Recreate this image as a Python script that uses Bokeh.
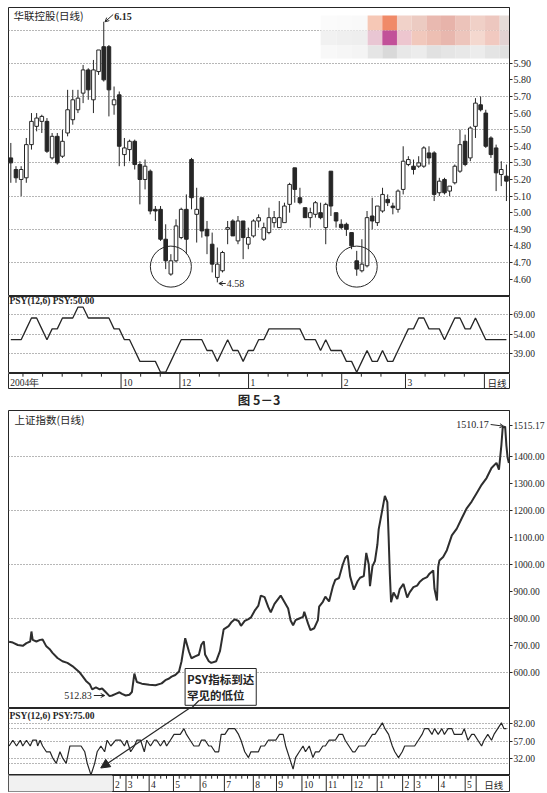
from bokeh.plotting import figure
from bokeh.layouts import column
from bokeh.models import (ColumnDataSource, Range1d, FixedTicker, LinearAxis, Grid,
                          PrintfTickFormatter, Label, Arrow, NormalHead, OpenHead)
from bokeh.core.properties import value
from bokeh.embed import file_html
from bokeh.resources import INLINE

INK = "#262626"
GRID_INK = "#6e6e6e"
SERIF = "Liberation Serif"
CJK = "Noto Sans CJK SC"

# ---------------- 华联控股 daily candles ----------------
hl_open = [5.33, 5.26, 5.20, 5.21, 5.41, 5.52, 5.55, 5.55, 5.33, 5.46,
           5.34, 5.48, 5.56, 5.62, 5.72, 5.86, 5.68, 5.85, 6.00, 6.00,
           5.65, 5.71, 5.35, 5.38, 5.43, 5.29, 5.20, 5.25, 5.02, 5.02,
           4.84, 4.63, 4.71, 4.85, 5.02, 5.32, 4.99, 5.09, 4.90, 4.81,
           4.61, 4.65, 4.90, 4.95, 4.83, 4.95, 4.81, 4.86, 4.95, 4.84,
           4.88, 4.94, 4.91, 4.94, 5.05, 5.27, 5.09, 5.03, 4.97, 4.99,
           5.00, 4.91, 5.25, 5.00, 4.93, 4.93, 4.88, 4.71, 4.65, 4.68,
           4.98, 4.94, 5.01, 5.08, 5.04, 5.02, 5.14, 5.29, 5.28, 5.28,
           5.28, 5.36, 5.36, 5.12, 5.20, 5.13, 5.18, 5.25, 5.43, 5.33,
           5.52, 5.65, 5.60, 5.45, 5.39, 5.23, 5.22]
hl_high = [5.42, 5.28, 5.28, 5.45, 5.60, 5.60, 5.59, 5.57, 5.48, 5.48,
           5.50, 5.74, 5.74, 5.74, 5.89, 5.87, 5.92, 5.98, 6.15, 6.01,
           5.76, 5.73, 5.45, 5.44, 5.44, 5.31, 5.32, 5.26, 5.04, 5.04,
           4.93, 4.75, 4.96, 5.03, 5.11, 5.33, 5.15, 5.09, 4.95, 4.88,
           4.79, 4.77, 4.95, 4.96, 4.98, 4.95, 4.91, 4.96, 4.99, 4.94,
           5.03, 5.01, 5.07, 5.06, 5.18, 5.27, 5.15, 5.03, 5.03, 5.07,
           5.06, 5.06, 5.25, 5.00, 4.96, 4.94, 4.88, 4.77, 4.84, 5.01,
           5.09, 5.04, 5.15, 5.11, 5.06, 5.14, 5.40, 5.34, 5.32, 5.34,
           5.40, 5.40, 5.37, 5.21, 5.21, 5.16, 5.29, 5.50, 5.47, 5.52,
           5.69, 5.70, 5.62, 5.46, 5.41, 5.31, 5.29]
hl_low = [5.18, 5.18, 5.10, 5.18, 5.38, 5.49, 5.48, 5.36, 5.32, 5.29,
          5.33, 5.46, 5.53, 5.60, 5.66, 5.68, 5.60, 5.83, 5.79, 5.58,
          5.59, 5.28, 5.28, 5.31, 5.26, 5.05, 5.14, 4.99, 4.95, 4.83,
          4.66, 4.62, 4.70, 4.84, 4.75, 5.02, 4.82, 4.85, 4.75, 4.64,
          4.58, 4.64, 4.81, 4.86, 4.81, 4.72, 4.78, 4.85, 4.91, 4.83,
          4.87, 4.91, 4.91, 4.94, 5.00, 5.06, 5.05, 4.97, 4.91, 4.97,
          4.96, 4.81, 4.98, 4.91, 4.90, 4.86, 4.78, 4.62, 4.64, 4.67,
          4.90, 4.92, 5.00, 5.04, 4.99, 5.00, 5.11, 5.28, 5.23, 5.27,
          5.27, 5.29, 5.07, 5.10, 5.11, 5.10, 5.17, 5.24, 5.28, 5.31,
          5.45, 5.61, 5.39, 5.33, 5.13, 5.16, 5.07]
hl_close = [5.30, 5.21, 5.26, 5.41, 5.55, 5.57, 5.58, 5.37, 5.46, 5.30,
            5.43, 5.62, 5.68, 5.69, 5.86, 5.74, 5.86, 5.98, 5.80, 5.74,
            5.68, 5.40, 5.39, 5.43, 5.29, 5.20, 5.28, 5.01, 5.01, 4.84,
            4.71, 4.71, 4.92, 5.02, 4.84, 5.09, 5.02, 4.89, 4.86, 4.69,
            4.69, 4.76, 4.91, 4.86, 4.95, 4.85, 4.85, 4.95, 4.97, 4.91,
            4.97, 4.97, 4.97, 5.04, 5.17, 5.14, 5.06, 4.97, 5.00, 5.06,
            4.97, 5.05, 5.04, 4.95, 4.91, 4.90, 4.80, 4.66, 4.69, 4.97,
            4.95, 5.04, 5.11, 5.06, 5.03, 5.13, 5.31, 5.32, 5.26, 5.30,
            5.39, 5.33, 5.11, 5.19, 5.12, 5.16, 5.28, 5.41, 5.29, 5.51,
            5.66, 5.62, 5.40, 5.35, 5.24, 5.26, 5.19]
hl_psy = [50.00, 50.00, 50.00, 58.33, 66.67, 66.67, 58.33, 50.00, 58.33, 58.33,
          66.67, 66.67, 66.67, 75.00, 75.00, 66.67, 66.67, 66.67, 66.67, 66.67,
          58.33, 58.33, 50.00, 50.00, 41.67, 33.33, 33.33, 33.33, 33.33, 25.00,
          25.00, 33.33, 41.67, 50.00, 50.00, 50.00, 50.00, 50.00, 41.67, 41.67,
          33.33, 41.67, 50.00, 41.67, 41.67, 33.33, 41.67, 41.67, 50.00, 50.00,
          58.33, 58.33, 58.33, 58.33, 58.33, 58.33, 58.33, 50.00, 50.00, 50.00,
          41.67, 50.00, 41.67, 41.67, 41.67, 33.33, 33.33, 25.00, 33.33, 41.67,
          33.33, 33.33, 41.67, 33.33, 33.33, 41.67, 50.00, 58.33, 58.33, 66.67,
          66.67, 58.33, 58.33, 58.33, 50.00, 58.33, 66.67, 66.67, 58.33, 58.33,
          66.67, 58.33, 50.00, 50.00, 50.00, 50.00, 50.00]
hl_month_pos = [22.5, 34.5, 48.5, 67.5, 80.5]
hl_month_lbl = ["10", "12", "1", "2", "3"]
hl_price_ticks = [4.6, 4.7, 4.8, 4.9, 5.0, 5.1, 5.2, 5.3, 5.4, 5.5, 5.6, 5.7, 5.8, 5.9]
hl_grid_ticks = [4.7, 4.9, 5.1, 5.3, 5.5, 5.7, 5.9, 6.1]
hl_psy_ticks = [39, 54, 69]
hl_marked = [31, 67]          # bars circled as double bottom

# ---------------- 上证指数 daily closes ----------------
sh_day = [0, 3, 7, 11, 14, 17, 18, 19, 22, 25,
          27, 30, 33, 35, 39, 43, 47, 51, 54, 57,
          59, 62, 65, 67, 70, 73, 75, 78, 81, 83,
          86, 89, 91, 94, 97, 99, 101, 103, 107, 113,
          118, 123, 126, 129, 131, 134, 137, 139, 142, 145,
          147, 150, 153, 155, 157, 158, 161, 163, 167, 170,
          173, 177, 179, 182, 185, 187, 190, 193, 195, 198,
          201, 203, 206, 209, 211, 214, 217, 219, 222, 225,
          227, 229, 231, 234, 237, 238, 241, 243, 246, 249,
          250, 253, 255, 258, 261, 263, 266, 269, 271, 273,
          275, 278, 281, 283, 286, 288, 290, 291, 293, 295,
          297, 298, 301, 303, 305, 306, 307, 308, 310, 313,
          315, 318, 321, 323, 326, 329, 331, 334, 337, 339,
          342, 343, 345, 346, 347, 350, 353, 357, 361, 365,
          369, 373, 377, 381, 385, 389, 393, 395, 397, 398,
          400, 401, 402, 403]
sh_close = [714, 711, 702, 699, 709, 715, 752, 721, 715, 721,
            722, 697, 685, 673, 654, 642, 636, 624, 612, 600,
            588, 569, 557, 538, 545, 538, 541, 527, 512.83, 515,
            521, 527, 521, 515, 518, 528, 596, 565, 559, 555,
            553, 560, 572, 578, 585, 591, 604, 641, 727, 678,
            653, 660, 666, 703, 716, 667, 642, 636, 642, 679,
            760, 772, 785, 797, 791, 773, 791, 798, 804, 829,
            848, 885, 879, 842, 823, 854, 873, 885, 861, 837,
            793, 775, 794, 800, 806, 825, 782, 757, 764, 794,
            844, 862, 881, 863, 918, 943, 950, 999, 1024, 1033,
            956, 907, 938, 951, 957, 1043, 1000, 920, 994, 1013,
            1075, 1130, 1204, 1254, 1231, 1106, 965, 860, 896, 872,
            909, 928, 878, 897, 916, 922, 935, 947, 953, 966,
            978, 910, 867, 991, 1015, 1028, 1053, 1108, 1133, 1171,
            1208, 1233, 1264, 1295, 1320, 1357, 1376, 1351, 1444, 1506,
            1510.17, 1440, 1395, 1376]
sh_last_quote = 1515.17
sh_psy_day = [0, 3, 6, 9, 11, 14, 17, 19, 22, 23, 25, 27, 30, 33, 35, 38, 41, 43, 46, 49,
              53, 58, 61, 63, 66, 69, 71, 74, 77, 79, 82, 86, 90, 93, 95, 98, 101, 103, 106, 109,
              111, 114, 117, 119, 122, 125, 127, 130, 133, 135, 138, 141, 143, 146, 149, 153, 155, 158, 161, 163,
              166, 169, 171, 174, 177, 179, 182, 185, 187, 190, 193, 195, 198, 201, 203, 206, 209, 211, 215, 218,
              221, 223, 226, 229, 231, 234, 237, 239, 242, 245, 247, 250, 253, 255, 258, 261, 263, 266, 269, 271,
              274, 277, 279, 282, 285, 287, 290, 293, 295, 298, 301, 303, 306, 309, 311, 314, 317, 319, 322, 325,
              327, 330, 333, 335, 338, 341, 343, 346, 349, 351, 354, 357, 359, 362, 365, 367, 370, 373, 375, 378,
              381, 383, 386, 389, 391, 394, 397, 399, 401]
sh_psy = [50, 58.33, 50, 58.33, 50, 58.33, 50, 58.33, 58.33, 50, 58.33, 50, 41.67, 41.67, 33.33, 25, 41.67, 33.33, 25, 50,
          50, 50, 41.67, 25, 8.33, 25, 41.67, 50, 41.67, 58.33, 50, 58.33, 58.33, 50, 58.33, 41.67, 50, 58.33, 58.33, 41.67,
          58.33, 50, 58.33, 58.33, 50, 58.33, 50, 58.33, 66.67, 66.67, 66.67, 75, 66.67, 58.33, 50, 50, 58.33, 58.33, 50, 50,
          41.67, 41.67, 66.67, 66.67, 75, 75, 75, 66.67, 58.33, 41.67, 33.33, 41.67, 41.67, 41.67, 50, 50, 58.33, 58.33, 58.33, 66.67,
          66.67, 50, 33.33, 16.67, 33.33, 41.67, 50, 41.67, 50, 33.33, 41.67, 41.67, 50, 50, 58.33, 58.33, 58.33, 66.67, 66.67, 58.33,
          50, 41.67, 41.67, 50, 50, 50, 58.33, 66.67, 66.67, 75, 83.33, 75, 66.67, 50, 41.67, 33.33, 41.67, 50, 50, 50,
          50, 58.33, 66.67, 75, 75, 66.67, 75, 66.67, 75, 66.67, 75, 75, 66.67, 66.67, 66.67, 75, 58.33, 66.67, 66.67, 58.33,
          50, 58.33, 66.67, 58.33, 66.67, 75, 83.33, 75, 75]
sh_month_day = [90, 101, 121, 142, 165, 186, 211, 231, 253, 274, 296, 318, 340, 350, 371, 394]
sh_month_lbl = ["2", "3", "4", "5", "6", "7", "8", "9", "10", "11", "12", "1", "2", "3", "4", "5"]
sh_price_ticks = [600, 700, 800, 900, 1000, 1100, 1200, 1300, 1400]
sh_grid_ticks = [600, 800, 1000, 1200, 1400]
sh_psy_ticks = [32, 57, 82]
sh_psy_grid = [25, 32, 57, 75, 82]


def make_panel(height, x_range, y_range, left, right, top=0, bottom=0, outline=INK):
    p = figure(width=547, height=height, x_range=x_range, y_range=y_range,
               output_backend="svg", toolbar_location=None, tools="",
               x_axis_location=None, y_axis_location=None,
               min_border_left=left, min_border_right=right,
               min_border_top=top, min_border_bottom=bottom,
               background_fill_color="white", border_fill_color="white",
               outline_line_color=outline, outline_line_width=1)
    p.grid.visible = False
    return p


def add_value_axis(p, ticks, size):
    ax = LinearAxis(ticker=FixedTicker(ticks=ticks),
                    formatter=PrintfTickFormatter(format="%.2f"))
    ax.major_tick_in = 0
    ax.major_tick_out = 3
    ax.minor_tick_in = 0
    ax.minor_tick_out = 0
    ax.major_label_standoff = 1
    ax.major_label_text_font = SERIF
    ax.major_label_text_font_size = size
    ax.major_label_text_color = INK
    ax.axis_line_color = INK
    ax.major_tick_line_color = INK
    p.add_layout(ax, "right")
    return ax


def add_dotted_grid(p, ticks):
    p.add_layout(Grid(dimension=1, ticker=FixedTicker(ticks=ticks),
                      grid_line_color=GRID_INK, grid_line_dash="1 2",
                      grid_line_width=1))


def draw_candles(p, o, h, l, c):
    src = ColumnDataSource(dict(
        x=list(range(len(o))), high=h, low=l,
        top=[max(a, b) for a, b in zip(o, c)],
        bottom=[min(a, b) for a, b in zip(o, c)],
        fill=["white" if cc >= oo else INK for oo, cc in zip(o, c)]))
    p.segment(x0="x", y0="low", x1="x", y1="high", source=src,
              line_color=INK, line_width=1)
    p.vbar(x="x", width=0.7, top="top", bottom="bottom", source=src,
           fill_color="fill", line_color=INK, line_width=1)


def note(p, x, y, text, font=SERIF, size="10px", align="left",
         baseline="middle", bold=False, **kw):
    p.add_layout(Label(x=x, y=y, text=text, text_font=font, text_font_size=size,
                       text_align=align, text_baseline=baseline, text_color=INK,
                       text_font_style="bold" if bold else "normal", **kw))


def date_row(x_range, left, seps, labels, dx, end_sep, end_x, minor,
             head=None, bottom=0):
    p = make_panel(16 + bottom, x_range, Range1d(0, 1), left, 0, 0, bottom)
    p.segment(x0=minor, y0=[1] * len(minor), x1=minor, y1=[0.8] * len(minor),
              line_color=INK, line_width=1)
    allsep = seps + [end_sep]
    p.segment(x0=allsep, y0=[0] * len(allsep), x1=allsep, y1=[1] * len(allsep),
              line_color=INK, line_width=1)
    p.text(x=[s + dx for s in seps], y=[0.42] * len(seps), text=labels,
           text_font=value(SERIF), text_font_size="9.5px", text_color=INK,
           text_align="left", text_baseline="middle")
    if head is not None:
        p.text(x=[head[0]], y=[0.42], text=[head[1]], text_font=value(SERIF),
               text_font_size="9.5px", text_color=INK, text_align="left",
               text_baseline="middle")
    p.text(x=[end_x], y=[0.42], text=["日线"], text_font=value(CJK),
           text_font_size="9.5px", text_color=INK, text_align="center",
           text_baseline="middle")
    return p


# ---- pixel helpers for free-standing notes ----
def hl_x(px):
    return -0.45 + (px - 8) / 5.276


def hl_y(py):
    return 6.236 - (py - 7) / 166.0


def hl_py(py):
    return 83.2 - (py - 296) / 1.3007


def sh_x(px):
    return -0.5 + (px - 6) / 1.25


def sh_y(py):
    return 1570 - (py - 410) / 0.27017


def sh_py(py):
    return 104 - (py - 708) / 0.6943


# ================= upper chart: 华联控股 =================
hl_xr = Range1d(-0.45, -0.45 + 512 / 5.276)
p1 = make_panel(296, hl_xr, Range1d(4.495, 6.236), 8, 27, top=7)
add_dotted_grid(p1, hl_grid_ticks)
add_value_axis(p1, hl_price_ticks, "10px")
draw_candles(p1, hl_open, hl_high, hl_low, hl_close)
p1.circle(x=hl_marked, y=[hl_low[i] + 0.055 for i in hl_marked], radius=20.5,
          radius_units="screen", fill_color=None, line_color=INK, line_width=1)

# blurred patch near the top edge
mosaic_cols = [327, 343, 359, 375, 390, 405, 420, 435, 450, 465, 480, 495, 510, 525]
mosaic_rows = [(15, 30), (30, 45), (45, 58)]
mosaic_colors = [
    ["#fbfbfb", "#fafafa", "#f9f9f9", "#f6c8b6", "#f08a68", "#f1d2c9", "#eccbc2",
     "#e9b9b0", "#e7b3aa", "#ecc3ba", "#f0d0c7", "#edc7bf", "#e6dcd8"],
    ["#f1f1f1", "#efefef", "#eeeeee", "#e9c6d3", "#c25199", "#edc6cf", "#f1c8bc",
     "#edbfb3", "#e8b7ae", "#edc5bc", "#f4d8cf", "#f1c9c0", "#e2d2d2"],
    ["#f8f8f8", "#f6f6f6", "#f4f4f4", "#e5e5e5", "#d9d9d9", "#e8e8e8", "#ececec",
     "#e1e1e1", "#e5e5e5", "#e8e8e8", "#ececec", "#e4e4e4", "#e0e0e0"],
]
ml, mr, mt, mb, mc = [], [], [], [], []
for (r0, r1), colors in zip(mosaic_rows, mosaic_colors):
    for k, col in enumerate(colors):
        ml.append(hl_x(mosaic_cols[k]))
        mr.append(hl_x(mosaic_cols[k + 1]))
        mt.append(hl_y(r0))
        mb.append(hl_y(r1))
        mc.append(col)
p1.quad(left=ml, right=mr, top=mt, bottom=mb, fill_color=mc, line_color=None)

note(p1, hl_x(13), hl_y(15), "华联控股(日线)", font=CJK, size="10.5px")
p1.add_layout(Arrow(end=OpenHead(size=4, line_color=INK, line_width=1),
                    x_start=hl_x(115), y_start=hl_y(14), x_end=18.25, y_end=6.15,
                    line_color=INK, line_width=1))
note(p1, hl_x(116), hl_y(16), "6.15", bold=True)
p1.add_layout(Arrow(end=OpenHead(size=4, line_color=INK, line_width=1),
                    x_start=hl_x(230), y_start=hl_y(283), x_end=40.3, y_end=hl_y(283),
                    line_color=INK, line_width=1))
note(p1, hl_x(231), hl_y(283), "4.58")

p2 = make_panel(77, hl_xr, Range1d(24.0, 83.2), 8, 27)
add_dotted_grid(p2, hl_psy_ticks)
add_value_axis(p2, hl_psy_ticks, "9.5px")
p2.line(x=list(range(len(hl_psy))), y=hl_psy, line_color=INK, line_width=1.3)
note(p2, hl_x(9), hl_py(300.5), "PSY(12,6)  PSY:50.00", size="9.5px", bold=True)

hl_minor = [2.5, 6.5, 10.5, 14.5, 18.5, 26.5, 30.5, 38.5, 42.5, 52.5, 56.5,
            60.5, 63.5, 71.5, 75.5, 84.5, 88.5, 92.5]
p3 = date_row(Range1d(-0.45, -0.45 + 539 / 5.276), 8, hl_month_pos, hl_month_lbl,
              0.4, -0.45 + 512 / 5.276, hl_x(533.5), hl_minor,
              head=(hl_x(10), "2004年"))

# caption
p4 = make_panel(21, Range1d(0, 547), Range1d(0, 21), 0, 0, outline=None)
note(p4, 273.5, 11, "图 5－3", font=CJK, size="12.5px", align="center", bold=True)

# ================= lower chart: 上证指数 =================
sh_xr = Range1d(-0.5, 403.5)
p5 = make_panel(298, sh_xr, Range1d(467, 1570), 6, 36)
add_dotted_grid(p5, sh_grid_ticks)
# the last quote is shown on the value axis next to the ordinary levels
add_value_axis(p5, sh_price_ticks + [sh_last_quote], "9.5px")
p5.line(x=sh_day, y=sh_close, line_color="#2e2e2e", line_width=2.0)
note(p5, sh_x(12), sh_y(419), "上证指数(日线)", font=CJK, size="10.5px")
note(p5, sh_x(490), sh_y(424), "1510.17", align="right")
p5.add_layout(Arrow(end=OpenHead(size=4, line_color=INK, line_width=1),
                    x_start=sh_x(492), y_start=sh_y(424), x_end=398.8, y_end=1512,
                    line_color=INK, line_width=1))
note(p5, sh_x(90), sh_y(695), "512.83", align="right")
p5.add_layout(Arrow(end=OpenHead(size=4, line_color=INK, line_width=1),
                    x_start=sh_x(92), y_start=sh_y(695), x_end=sh_x(103), y_end=sh_y(695),
                    line_color=INK, line_width=1))
note(p5, sh_x(184), sh_y(668), "PSY指标到达\n罕见的低位", font=CJK, size="11.5px",
     baseline="top", bold=True, border_line_color=INK, background_fill_color="white",
     padding=2, text_line_height=1.05)
p5.add_layout(Arrow(end=None, x_start=sh_x(198), y_start=sh_y(700),
                    x_end=sh_x(189), y_end=sh_y(709), line_color=INK, line_width=1.2))

p6 = make_panel(67, sh_xr, Range1d(7.5, 104), 6, 36)
add_dotted_grid(p6, sh_psy_grid)
add_value_axis(p6, sh_psy_ticks, "9.5px")
p6.line(x=sh_psy_day, y=sh_psy, line_color=INK, line_width=1.2)
note(p6, sh_x(7), sh_py(715), "PSY(12,6)  PSY:75.00", size="9.5px", bold=True)
p6.add_layout(Arrow(end=NormalHead(size=9, fill_color=INK, line_color=INK),
                    x_start=sh_x(189.5), y_start=sh_py(707), x_end=sh_x(99),
                    y_end=sh_py(767.5), line_color=INK, line_width=1.2))

sh_minor = [96, 106, 111, 116, 126, 131, 136, 147, 152, 157, 170, 175, 180, 191,
            196, 201, 206, 216, 221, 226, 236, 241, 246, 258, 263, 268, 279, 284,
            289, 301, 306, 311, 323, 328, 333, 345, 355, 360, 365, 376, 381, 386, 399]
p7 = date_row(Range1d(-0.5, -0.5 + 541 / 1.25), 6, sh_month_day, sh_month_lbl,
              1.6, 403.5, sh_x(530), sh_minor, bottom=2)
p7.quad(left=[-0.5], right=[sh_x(118)], top=[1.2], bottom=[-0.2],
        fill_color="#f1f1f1", line_color=None)

layout = column(p1, p2, p3, p4, p5, p6, p7, spacing=0)
open("out.html", "w").write(file_html(layout, INLINE, "华联控股 / 上证指数"))
